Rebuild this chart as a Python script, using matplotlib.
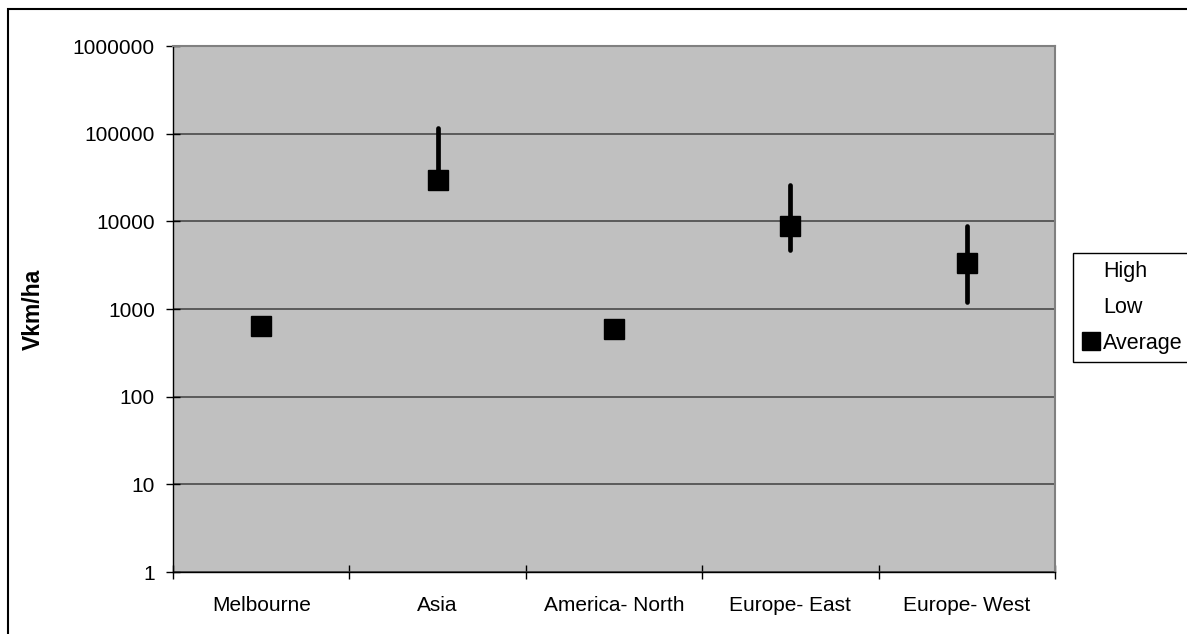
import matplotlib
matplotlib.use("Agg")
import matplotlib.pyplot as plt
import numpy as np
from matplotlib.lines import Line2D
from matplotlib.patches import Rectangle

# dati no attēla
regions = ["Melbourne", "Asia", "America- North", "Europe- East", "Europe- West"]
high = [np.nan, 115000, np.nan, 26000, 8900]
low = [np.nan, 26000, np.nan, 4700, 1210]
average = [640, 29500, 590, 8900, 3350]
yticks = [1, 10, 100, 1000, 10000, 100000, 1000000]

plt.rcParams["font.family"] = ["Liberation Sans", "DejaVu Sans"]
plt.rcParams["font.size"] = 15

W, H = 1187, 634
fig = plt.figure(figsize=(W / 100, H / 100), dpi=100)
ax = fig.add_axes([173 / W, 1 - 572 / H, (1055 - 173) / W, (572 - 46) / H])
ax.set_facecolor("#C0C0C0")

x = np.arange(len(regions))

# augstais-zemais stabiņš
hl = ax.vlines(x, low, high, color="black", lw=3.4, zorder=3)
hl.set_capstyle("round")
ax.plot(x, average, ls="none", marker="s", ms=14, color="black", zorder=4)

ax.set_yscale("log")
ax.set_ylim(1, 1000000)
ax.set_yticks(yticks)
ax.set_yticklabels([str(v) for v in yticks])
ax.yaxis.set_minor_locator(matplotlib.ticker.NullLocator())
ax.grid(axis="y", color="#404040", lw=1.1, zorder=1)
ax.set_axisbelow(True)

ax.set_xlim(-0.5, len(regions) - 0.5)
ax.set_xticks(np.arange(len(regions) + 1) - 0.5)
ax.set_xticklabels([])
ax.set_xticks(x, minor=True)
ax.set_xticklabels(regions, minor=True)
ax.tick_params(axis="x", which="major", direction="inout", length=10, width=1)
ax.tick_params(axis="x", which="minor", length=0, pad=17)
ax.tick_params(axis="y", direction="inout", length=10, width=1, pad=8)

for s in ["top", "right"]:
    ax.spines[s].set_color("#808080")
    ax.spines[s].set_linewidth(1.5)
for s in ["left", "bottom"]:
    ax.spines[s].set_color("black")
    ax.spines[s].set_linewidth(1)

ax.set_ylabel("Vkm/ha", fontweight="bold", fontsize=16.5)
ax.yaxis.set_label_coords(-0.145, 0.5)

handles = [Line2D([], [], ls="none"),
           Line2D([], [], ls="none"),
           Line2D([], [], ls="none", marker="s", ms=13, color="black")]
leg = ax.legend(handles, ["High", "Low", "Average"], loc="upper left",
                bbox_to_anchor=(1073 / W, 1 - 253 / H), bbox_transform=fig.transFigure,
                frameon=True, fancybox=False, edgecolor="black", framealpha=1,
                borderaxespad=0, borderpad=0.36, handlelength=0.95,
                handletextpad=0.1, labelspacing=0.7, fontsize=15.5)
leg.get_frame().set_linewidth(1)

# ārējais rāmis
fig.patches.append(Rectangle((8 / W, -0.1), 1.2, 1 - 9 / H + 0.1,
                             transform=fig.transFigure, fill=False,
                             edgecolor="black", lw=1.5))

fig.savefig("out.png", dpi=100)
